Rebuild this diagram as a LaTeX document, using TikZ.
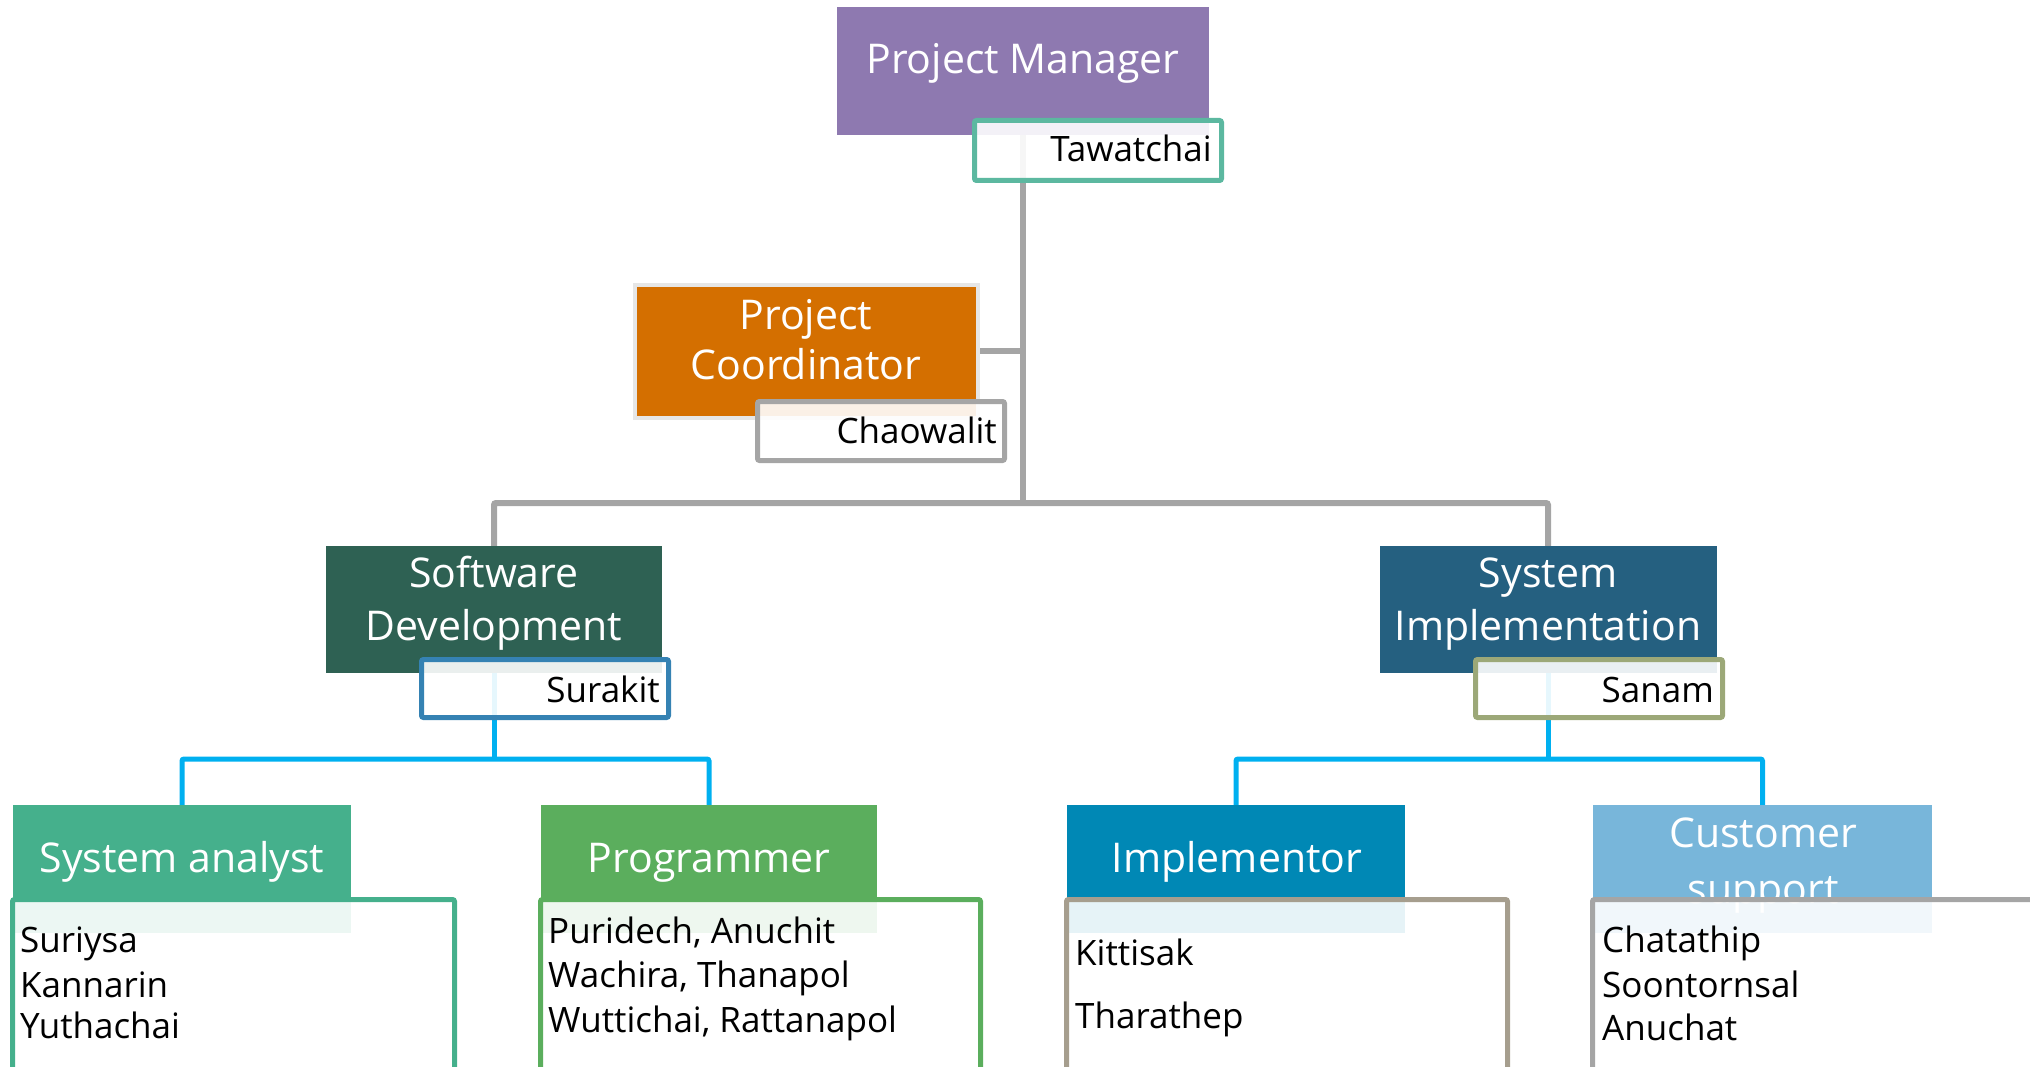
\documentclass[tikz,border=0pt]{standalone}
\usepackage{fontspec}
\setmainfont{Open Sans}
\usetikzlibrary{backgrounds}
\definecolor{pmPurple}{HTML}{8E79B0}
\definecolor{pcOrange}{HTML}{D46F00}
\definecolor{pcFrame}{HTML}{E6E6E6}
\definecolor{sdGreen}{HTML}{2E6153}
\definecolor{siBlue}{HTML}{256080}
\definecolor{saGreen}{HTML}{45B08C}
\definecolor{prGreen}{HTML}{5BAE5D}
\definecolor{imBlue}{HTML}{0088B5}
\definecolor{csBlue}{HTML}{78B6DA}
\definecolor{tealEdge}{HTML}{5CB8A0}
\definecolor{grayEdge}{HTML}{A5A5A5}
\definecolor{suEdge}{HTML}{3582B3}
\definecolor{olEdge}{HTML}{9CA878}
\definecolor{taupeEdge}{HTML}{A69E8E}
\definecolor{lineGray}{HTML}{A5A5A5}
\definecolor{lineBlue}{HTML}{00B0F0}
\begin{document}
\begin{tikzpicture}[x=1pt,y=-1pt,
  hdr/.style={text=white, font=\fontsize{41}{48}\selectfont, inner sep=0, anchor=base},
  nmr/.style={text=black, font=\fontsize{35}{41}\selectfont, inner sep=0, anchor=base east},
  nml/.style={text=black, font=\fontsize{35}{41}\selectfont, inner sep=0, anchor=base west},
  cbox/.style={rectangle, inner sep=0, outer sep=0},
  lbox/.style={rectangle, inner sep=0, outer sep=0, fill=white, fill opacity=0.9, line width=5pt, rounded corners=2pt},
  gline/.style={draw=lineGray, line width=6pt, rounded corners=2pt},
  bline/.style={draw=lineBlue, line width=5pt, rounded corners=2pt}]
\useasboundingbox (0,0) rectangle (2030,1067);
\clip (0,0) rectangle (2030,1067);

% top level
\node[cbox, fill=pmPurple, minimum width=372pt, minimum height=128pt] (pm) at (1023,71) {};
\node[hdr] (pmt) at (1023,74) {Project Manager};
\node[lbox, draw=tealEdge, minimum width=247pt, minimum height=60pt] (taw) at (1098,150.5) {};
\node[nmr] (tawt) at (1212,162) {Tawatchai};

% coordinator
\node[cbox, fill=pcOrange, draw=pcFrame, line width=4pt, minimum width=343pt, minimum height=133pt] (pc) at (806.5,351.5) {};
\node[hdr] (pct1) at (806,330) {Project};
\node[hdr] (pct2) at (806,380) {Coordinator};
\node[lbox, draw=grayEdge, minimum width=247pt, minimum height=59pt] (cha) at (881,431) {};
\node[nmr] (chat) at (997,443) {Chaowalit};

% second level
\node[cbox, fill=sdGreen, minimum width=336pt, minimum height=127pt] (sd) at (494,609.5) {};
\node[hdr] (sdt1) at (494,587) {Software};
\node[hdr] (sdt2) at (494,640) {Development};
\node[lbox, draw=suEdge, minimum width=247pt, minimum height=58pt] (sur) at (545,688.5) {};
\node[nmr] (surt) at (660,702) {Surakit};

\node[cbox, fill=siBlue, minimum width=337pt, minimum height=127pt] (si) at (1548,609.5) {};
\node[hdr] (sit1) at (1548,587) {System};
\node[hdr] (sit2) at (1548,640) {Implementation};
\node[lbox, draw=olEdge, minimum width=247pt, minimum height=58pt] (san) at (1599,688.5) {};
\node[nmr] (sant) at (1714,702) {Sanam};

% third level
\node[cbox, fill=saGreen, minimum width=338pt, minimum height=128pt] (sa) at (182,869) {};
\node[hdr] (sat) at (182,872) {System analyst};
\node[cbox, fill=prGreen, minimum width=336pt, minimum height=128pt] (pg) at (709,869) {};
\node[hdr] (pgt) at (709,872) {Programmer};
\node[cbox, fill=imBlue, minimum width=338pt, minimum height=128pt] (im) at (1236,869) {};
\node[hdr] (imt) at (1237,872) {Implementor};
\node[cbox, fill=csBlue, minimum width=339pt, minimum height=128pt] (cs) at (1762.5,869) {};
\node[hdr] (cst1) at (1763,847) {Customer};
\node[hdr] (cst2) at (1763,903) {support};

\node[lbox, draw=saGreen, minimum width=442pt, minimum height=210pt] (sal) at (233.5,1004.5) {};
\node[lbox, draw=prGreen, minimum width=440pt, minimum height=210pt] (pgl) at (760.5,1004.5) {};
\node[lbox, draw=taupeEdge, minimum width=441pt, minimum height=210pt] (iml) at (1287,1004.5) {};
\node[lbox, draw=grayEdge, minimum width=508pt, minimum height=210pt] (csl) at (1846.5,1004.5) {};

\node[nml] (n1) at (20,952) {Suriysa};
\node[nml] (n2) at (20,997) {Kannarin};
\node[nml] (n3) at (20,1038) {Yuthachai};
\node[nml] (n4) at (548,943) {Puridech, Anuchit};
\node[nml] (n5) at (548,987) {Wachira, Thanapol};
\node[nml] (n6) at (548,1032) {Wuttichai, Rattanapol};
\node[nml] (n7) at (1075,965) {Kittisak};
\node[nml] (n8) at (1075,1028) {Tharathep};
\node[nml] (n9) at (1602,952) {Chatathip};
\node[nml] (n10) at (1602,997) {Soontornsal};
\node[nml] (n11) at (1602,1040) {Anuchat};

% connectors
\begin{scope}[on background layer]
\coordinate (gj) at (1023,503);
\draw[gline] (pm.south) -- (gj);
\draw[gline] (pc.east) -- (pc.east -| gj);
\draw[gline] (sd.north) |- (gj) -| (si.north);
\coordinate (bj1) at (494,759);
\coordinate (bj2) at (1548,759);
\draw[bline] (sd.south) -- (bj1);
\draw[bline] (sa.north) |- (bj1) -| (pg.north);
\draw[bline] (si.south) -- (bj2);
\draw[bline] (im.north) |- (bj2) -| (cs.north);
\end{scope}
\end{tikzpicture}
\end{document}
